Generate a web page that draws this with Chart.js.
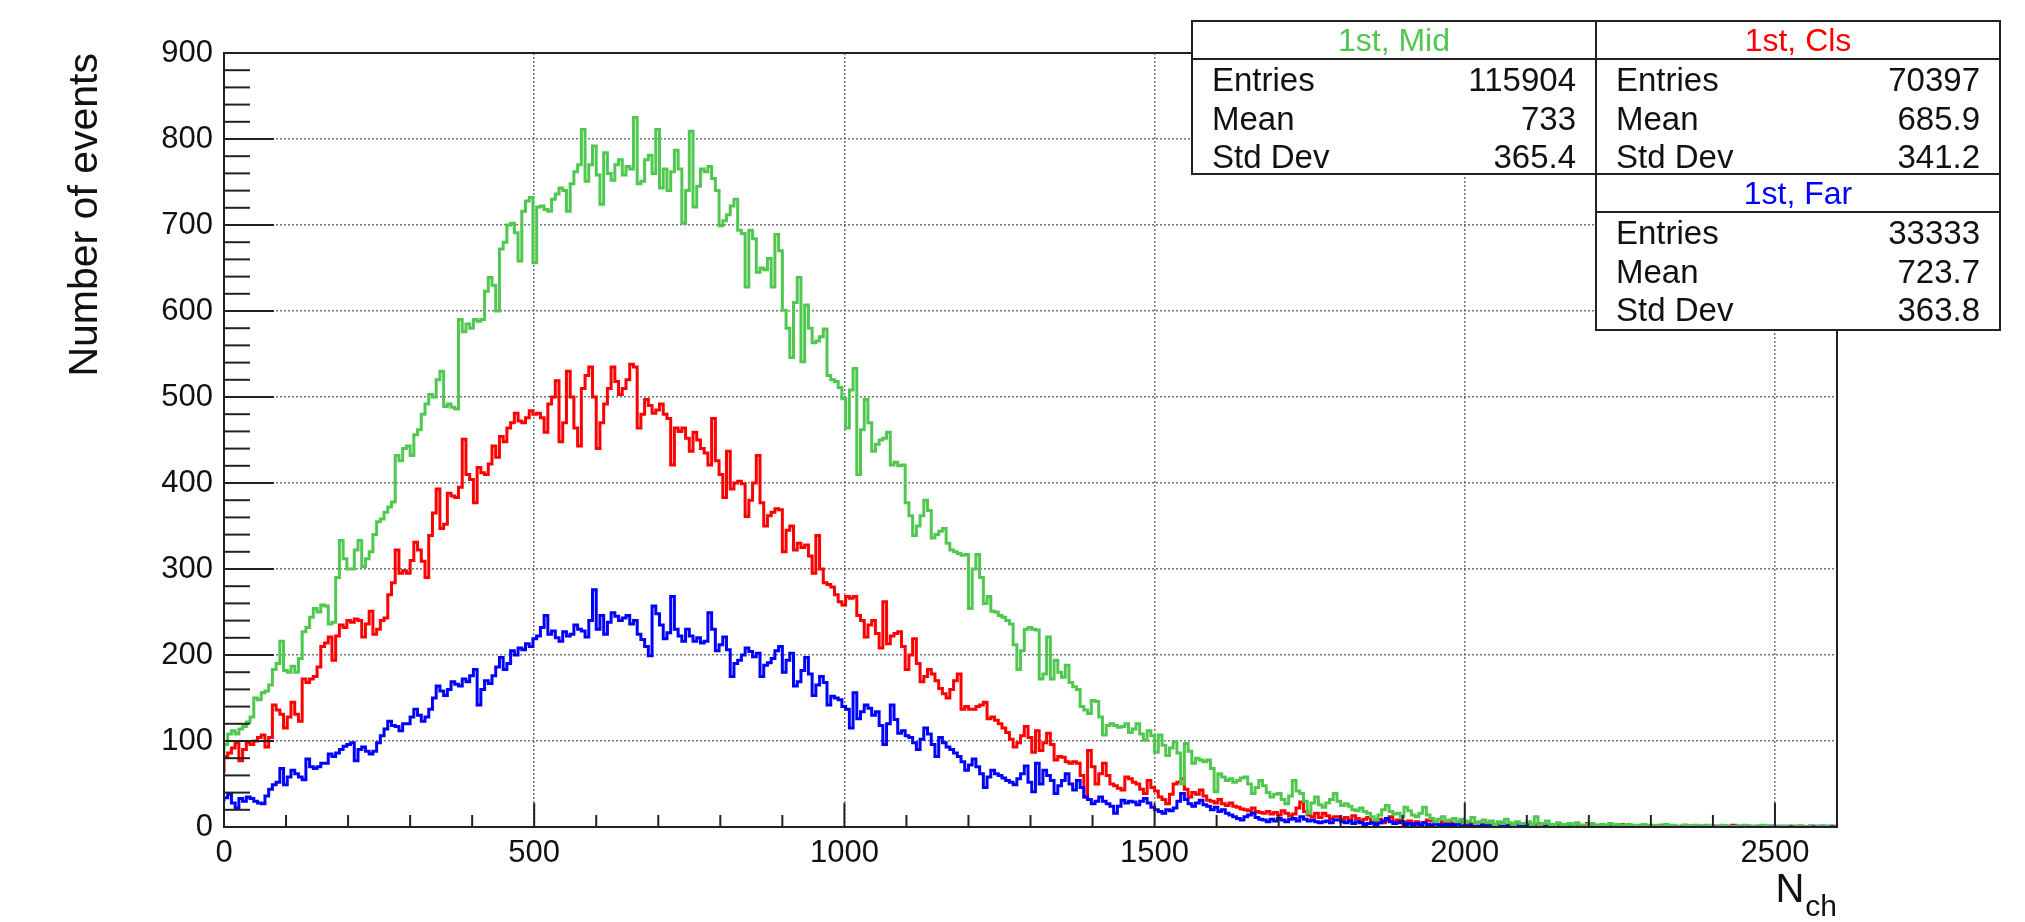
<!DOCTYPE html>
<html>
<head>
<meta charset="utf-8">
<title>N_ch distributions</title>
<script src="https://cdn.jsdelivr.net/npm/chart.js@4.4.1/dist/chart.umd.min.js"></script>
<style>
  html, body { margin: 0; padding: 0; background: #fff; }
  canvas { display: block; }
</style>
</head>
<body>
<canvas id="canvas" width="2025" height="922"></canvas>
<script>
var BIN_WIDTH = 6;
var X_MAX = 2600;
var Y_MAX = 900;
var X_TICKS = [0, 500, 1000, 1500, 2000, 2500];
var Y_TICKS = [0, 100, 200, 300, 400, 500, 600, 700, 800, 900];

// bin contents, 6 units per bin starting at 0 (10 bins = 60 units per row)
var MID_COUNTS = [
  84, 96, 108, 112, 108, 114, 117, 122, 128, 150,
  148, 156, 158, 165, 183, 190, 216, 182, 180, 187,
  180, 196, 227, 232, 244, 254, 250, 258, 257, 236,
  238, 290, 333, 312, 300, 300, 322, 333, 303, 312,
  320, 340, 355, 358, 366, 372, 378, 432, 426, 440,
  443, 432, 456, 462, 480, 492, 503, 500, 520, 530,
  489, 492, 488, 486, 590, 576, 585, 580, 590, 588,
  590, 623, 639, 630, 600, 672, 680, 700, 702, 691,
  658, 716, 728, 732, 656, 721, 722, 718, 716, 730,
  736, 743, 740, 716, 748, 762, 770, 811, 751, 770,
  792, 758, 724, 784, 760, 752, 770, 776, 758, 768,
  765, 825, 748, 751, 776, 781, 760, 811, 743, 765,
  740, 762, 787, 765, 702, 740, 809, 721, 745, 765,
  762, 768, 754, 740, 699, 705, 712, 722, 730, 694,
  690, 628, 694, 684, 645, 650, 648, 661, 628, 689,
  670, 601, 580, 546, 610, 639, 541, 607, 580, 563,
  565, 570, 579, 525, 520, 518, 511, 498, 464, 508,
  533, 410, 462, 497, 470, 437, 445, 450, 452, 459,
  421, 424, 420, 421, 377, 362, 339, 350, 362, 380,
  368, 336, 340, 344, 347, 330, 322, 320, 318, 316,
  317, 254, 300, 317, 290, 260, 268, 251, 250, 246,
  244, 240, 236, 212, 183, 205, 230, 232, 230, 229,
  172, 178, 221, 172, 194, 180, 174, 188, 168, 163,
  160, 140, 136, 132, 147, 146, 128, 107, 118, 120,
  118, 116, 117, 120, 110, 114, 120, 108, 101, 112,
  106, 87, 107, 95, 83, 92, 99, 86, 50, 97,
  88, 74, 80, 78, 76, 78, 68, 41, 62, 58,
  54, 56, 52, 54, 57, 58, 50, 39, 46, 54,
  48, 40, 35, 38, 39, 32, 27, 36, 54, 42,
  39, 30, 16, 28, 35, 26, 23, 28, 32, 39,
  30, 25, 27, 24, 20, 19, 22, 18, 16, 12,
  8, 14, 20, 25, 18, 15, 16, 12, 23, 19,
  14, 12, 16, 23, 14, 10, 6, 9, 12, 7,
  8, 10, 6, 9, 5, 7, 11, 4, 6, 8,
  5, 7, 3, 6, 4, 9, 5, 3, 6, 4,
  4, 6, 3, 12, 2, 4, 7, 3, 2, 5,
  3, 2, 4, 3, 5, 2, 1, 3, 4, 2,
  2, 3, 1, 4, 2, 3, 2, 1, 3, 2,
  1, 2, 3, 1, 2, 0, 2, 1, 3, 1,
  2, 1, 0, 2, 1, 1, 2, 0, 1, 2,
  1, 0, 1, 2, 1, 0, 1, 1, 0, 2,
  0, 1, 1, 0, 2, 1, 0, 1, 0, 1,
  1, 0, 0, 1, 1, 0, 1, 0, 0, 1,
  0, 1, 0, 0
];

var CLS_COUNTS = [
  63, 82, 86, 92, 98, 77, 90, 98, 96, 100,
  104, 107, 93, 104, 142, 136, 131, 115, 128, 145,
  131, 123, 172, 168, 172, 175, 186, 210, 214, 221,
  194, 222, 235, 232, 240, 238, 242, 240, 221, 236,
  251, 224, 230, 240, 243, 270, 284, 322, 295, 298,
  295, 310, 331, 322, 309, 290, 339, 365, 393, 347,
  352, 388, 385, 383, 395, 451, 410, 404, 377, 418,
  412, 410, 422, 443, 430, 454, 448, 464, 470, 481,
  472, 470, 476, 484, 480, 481, 476, 459, 492, 500,
  519, 448, 470, 530, 500, 464, 443, 510, 525, 535,
  500, 440, 470, 492, 510, 535, 518, 503, 510, 520,
  538, 535, 464, 480, 497, 490, 481, 485, 492, 480,
  475, 421, 464, 460, 464, 452, 437, 459, 450, 440,
  435, 421, 475, 426, 410, 383, 437, 393, 400, 402,
  399, 361, 380, 400, 432, 377, 350, 362, 366, 370,
  369, 320, 345, 350, 322, 330, 325, 328, 315, 295,
  339, 300, 284, 282, 279, 270, 262, 258, 268, 266,
  268, 246, 240, 221, 235, 240, 225, 208, 262, 213,
  222, 225, 227, 210, 183, 200, 219, 190, 169, 175,
  183, 178, 170, 161, 155, 150, 160, 170, 178, 137,
  140, 137, 137, 140, 142, 145, 126, 128, 124, 120,
  115, 110, 102, 93, 98, 106, 117, 104, 87, 112,
  89, 98, 109, 96, 78, 82, 81, 76, 74, 76,
  74, 60, 35, 89, 70, 50, 62, 74, 60, 50,
  48, 45, 43, 58, 56, 52, 50, 44, 39, 54,
  46, 42, 35, 32, 27, 38, 50, 52, 56, 44,
  35, 40, 38, 43, 36, 31, 30, 28, 32, 27,
  25, 28, 24, 23, 21, 20, 19, 22, 18, 17,
  16, 18, 15, 17, 14, 19, 16, 13, 15, 22,
  29, 18, 14, 12, 16, 11, 16, 13, 10, 12,
  12, 9, 11, 8, 13, 10, 7, 9, 11, 6,
  7, 9, 5, 8, 12, 6, 8, 6, 5, 7,
  4, 6, 3, 5, 8, 7, 4, 3, 6, 4,
  5, 3, 4, 6, 2, 4, 3, 5, 2, 3,
  4, 2, 3, 1, 5, 2, 3, 2, 4, 1,
  2, 3, 1, 2, 4, 1, 2, 3, 1, 2,
  1, 2, 3, 1, 0, 2, 1, 4, 1, 2,
  2, 1, 0, 1, 2, 1, 3, 0, 1, 1,
  0, 1, 2, 1, 0, 1, 1, 2, 0, 1,
  1, 0, 1, 2, 0, 1, 0, 1, 1, 0,
  0, 1, 0, 1, 1, 0, 2, 0, 1, 0,
  1, 0, 1, 0, 0, 1, 0, 1, 0, 0,
  0, 1, 0, 0, 1, 0, 0, 1, 0, 0,
  1, 0, 0, 1
];

var FAR_COUNTS = [
  30, 34, 38, 28, 22, 33, 30, 35, 33, 30,
  28, 27, 36, 44, 49, 52, 68, 49, 58, 66,
  62, 58, 55, 79, 70, 68, 70, 74, 74, 85,
  82, 86, 90, 94, 96, 98, 77, 90, 93, 88,
  85, 88, 98, 106, 114, 123, 118, 117, 112, 120,
  120, 128, 137, 130, 123, 128, 137, 150, 164, 158,
  153, 160, 169, 166, 164, 172, 169, 176, 183, 142,
  160, 170, 167, 176, 186, 197, 183, 190, 205, 200,
  208, 206, 213, 210, 219, 222, 232, 246, 224, 228,
  220, 216, 227, 222, 224, 235, 230, 228, 221, 240,
  276, 230, 246, 224, 238, 249, 245, 240, 243, 246,
  236, 240, 224, 218, 210, 199, 257, 248, 235, 219,
  226, 268, 230, 222, 216, 230, 222, 216, 220, 214,
  216, 249, 230, 205, 212, 221, 206, 175, 190, 194,
  200, 208, 204, 198, 202, 175, 188, 191, 196, 205,
  210, 180, 194, 202, 164, 169, 182, 197, 178, 153,
  165, 175, 168, 142, 152, 150, 148, 140, 137, 115,
  156, 126, 134, 142, 138, 130, 134, 118, 96, 120,
  142, 125, 109, 112, 106, 104, 98, 90, 102, 115,
  108, 96, 82, 104, 98, 93, 90, 86, 82, 76,
  66, 72, 79, 70, 62, 46, 58, 66, 62, 60,
  57, 54, 52, 49, 56, 62, 71, 52, 41, 74,
  50, 66, 60, 54, 39, 48, 54, 62, 50, 43,
  54, 46, 35, 32, 27, 30, 35, 30, 27, 24,
  16, 24, 31, 28, 30, 29, 26, 30, 33, 28,
  23, 20, 18, 16, 20, 19, 22, 30, 39, 32,
  27, 24, 28, 31, 26, 24, 20, 23, 18, 20,
  16, 14, 12, 10, 8, 12, 14, 16, 11, 9,
  8, 6, 9, 7, 10, 8, 6, 9, 10, 7,
  12, 9, 7, 8, 6, 5, 6, 7, 5, 8,
  8, 6, 5, 7, 4, 6, 5, 3, 4, 5,
  3, 5, 7, 10, 6, 4, 5, 6, 3, 4,
  3, 4, 2, 5, 3, 2, 4, 3, 2, 3,
  2, 3, 4, 1, 3, 2, 1, 3, 2, 1,
  2, 1, 3, 2, 1, 2, 0, 1, 2, 1,
  1, 2, 0, 1, 1, 2, 1, 0, 1, 1,
  0, 1, 2, 1, 0, 1, 1, 0, 2, 1,
  1, 0, 1, 1, 0, 2, 0, 1, 0, 1,
  0, 1, 0, 1, 1, 0, 1, 0, 0, 1,
  1, 0, 0, 1, 0, 1, 0, 0, 1, 0,
  0, 1, 0, 0, 1, 0, 1, 1, 0, 0,
  1, 0, 0, 1, 0, 0, 1, 0, 0, 1,
  0, 0, 1, 0, 1, 0, 0, 1, 1, 0,
  1, 0, 1, 0
];

var SERIES_NAMES = ["1st, Mid", "1st, Cls", "1st, Far"];
var STAT_NAMES = ["Entries", "Mean", "Std Dev"];
var MID_STATS = ["115904", "733", "365.4"];
var CLS_STATS = ["70397", "685.9", "341.2"];
var FAR_STATS = ["33333", "723.7", "363.8"];

var GREEN = "rgb(80,200,80)";
var RED = "rgb(255,0,0)";
var BLUE = "rgb(0,0,255)";
var FONT = '"Liberation Sans", Arial, Helvetica, sans-serif';

/* histogram -> step points (left edge of each bin + closing edge) */
function toSteps(counts) {
  var pts = [];
  for (var i = 0; i < counts.length; i++) {
    pts.push({x: i * BIN_WIDTH, y: counts[i]});
  }
  pts.push({x: counts.length * BIN_WIDTH, y: counts[counts.length - 1]});
  return pts;
}

function histDataset(label, counts, colour) {
  return {
    label: label,
    data: toSteps(counts),
    stepped: 'after',
    borderColor: colour,
    borderWidth: 3,
    pointRadius: 0,
    fill: false
  };
}

function fixedTicks(values) {
  return function(scale) {
    scale.ticks = values.map(function(v) { return {value: v}; });
  };
}

function line(ctx, x0, y0, x1, y1) {
  ctx.beginPath();
  ctx.moveTo(x0, y0);
  ctx.lineTo(x1, y1);
  ctx.stroke();
}

function drawStatBox(ctx, left, top, right, bottom, title, colour, values) {
  var sep = top + 38;
  ctx.save();
  ctx.fillStyle = '#fff';
  ctx.fillRect(left, top, right - left, bottom - top);
  ctx.strokeStyle = '#222';
  ctx.lineWidth = 2;
  ctx.strokeRect(left, top, right - left, bottom - top);
  line(ctx, left, sep, right, sep);

  ctx.font = '32px ' + FONT;
  ctx.textAlign = 'center';
  ctx.fillStyle = colour;
  ctx.fillText(title, (left + right) / 2, top + 30);

  ctx.font = '33px ' + FONT;
  ctx.fillStyle = '#111';
  for (var i = 0; i < STAT_NAMES.length; i++) {
    var y = top + 70 + i * 38.5;
    ctx.textAlign = 'left';
    ctx.fillText(STAT_NAMES[i], left + 20, y);
    ctx.textAlign = 'right';
    ctx.fillText(values[i], right - 20, y);
  }
  ctx.restore();
}

/* ROOT style frame: inner ticks, box, stats panels and x title */
var rootFrame = {
  id: 'rootFrame',
  afterDatasetsDraw: function(chart) {
    var ctx = chart.ctx, area = chart.chartArea;
    var xs = chart.scales.x, ys = chart.scales.y;
    ctx.save();
    ctx.strokeStyle = '#222';
    ctx.lineWidth = 2;
    for (var v = 0; v <= Y_MAX; v += 20) {
      var y = ys.getPixelForValue(v);
      line(ctx, area.left, y, area.left + (v % 100 === 0 ? 50 : 26), y);
    }
    for (var u = 0; u <= X_MAX; u += 100) {
      var x = xs.getPixelForValue(u);
      line(ctx, x, area.bottom, x, area.bottom - (u % 500 === 0 ? 24 : 12));
    }
    ctx.strokeRect(area.left, area.top, area.right - area.left, area.bottom - area.top);
    ctx.restore();
  },
  afterDraw: function(chart) {
    var ctx = chart.ctx, area = chart.chartArea;
    drawStatBox(ctx, 1192, 21, 1596, 174, SERIES_NAMES[0], GREEN, MID_STATS);
    drawStatBox(ctx, 1596, 21, 2000, 174, SERIES_NAMES[1], RED, CLS_STATS);
    drawStatBox(ctx, 1596, 174, 2000, 330, SERIES_NAMES[2], BLUE, FAR_STATS);

    // x title N_ch, right aligned to the end of the axis
    ctx.save();
    ctx.fillStyle = '#111';
    ctx.textAlign = 'right';
    ctx.font = '30px ' + FONT;
    var subW = ctx.measureText('ch').width;
    ctx.fillText('ch', area.right, 916);
    ctx.font = '40px ' + FONT;
    ctx.fillText('N', area.right - subW - 1, 902);
    ctx.restore();
  }
};

var ctx = document.getElementById('canvas').getContext('2d');
window.nchChart = new Chart(ctx, {
  type: 'line',
  data: {
    datasets: [
      histDataset(SERIES_NAMES[0], MID_COUNTS, GREEN),
      histDataset(SERIES_NAMES[2], FAR_COUNTS, BLUE),
      histDataset(SERIES_NAMES[1], CLS_COUNTS, RED)
    ]
  },
  options: {
    responsive: false,
    animation: false,
    layout: { padding: { left: 0, right: 188, top: 53, bottom: 0 } },
    plugins: {
      legend: { display: false },
      tooltip: { enabled: false }
    },
    scales: {
      x: {
        type: 'linear',
        min: 0,
        max: X_MAX,
        afterFit: function(scale) { scale.height = 95; },
        afterBuildTicks: fixedTicks(X_TICKS),
        ticks: {
          padding: 8,
          color: '#111',
          maxRotation: 0,
          autoSkip: false,
          callback: function(v) { return String(v); },
          font: { family: FONT, size: 31 }
        },
        grid: { color: 'rgba(90,90,90,0.85)', lineWidth: 1.5, drawTicks: false },
        border: { display: false, dash: [2, 2] }
      },
      y: {
        type: 'linear',
        min: 0,
        max: Y_MAX,
        afterFit: function(scale) { scale.width = 224; },
        afterBuildTicks: fixedTicks(Y_TICKS),
        ticks: {
          padding: 11,
          color: '#111',
          autoSkip: false,
          callback: function(v) { return String(v); },
          font: { family: FONT, size: 31 }
        },
        grid: { color: 'rgba(90,90,90,0.85)', lineWidth: 1.5, drawTicks: false },
        border: { display: false, dash: [2, 2] },
        title: {
          display: true,
          text: 'Number of events',
          align: 'end',
          color: '#111',
          padding: { top: 61, bottom: 0 },
          font: { family: FONT, size: 41 }
        }
      }
    }
  },
  plugins: [rootFrame]
});
</script>
</body>
</html>
